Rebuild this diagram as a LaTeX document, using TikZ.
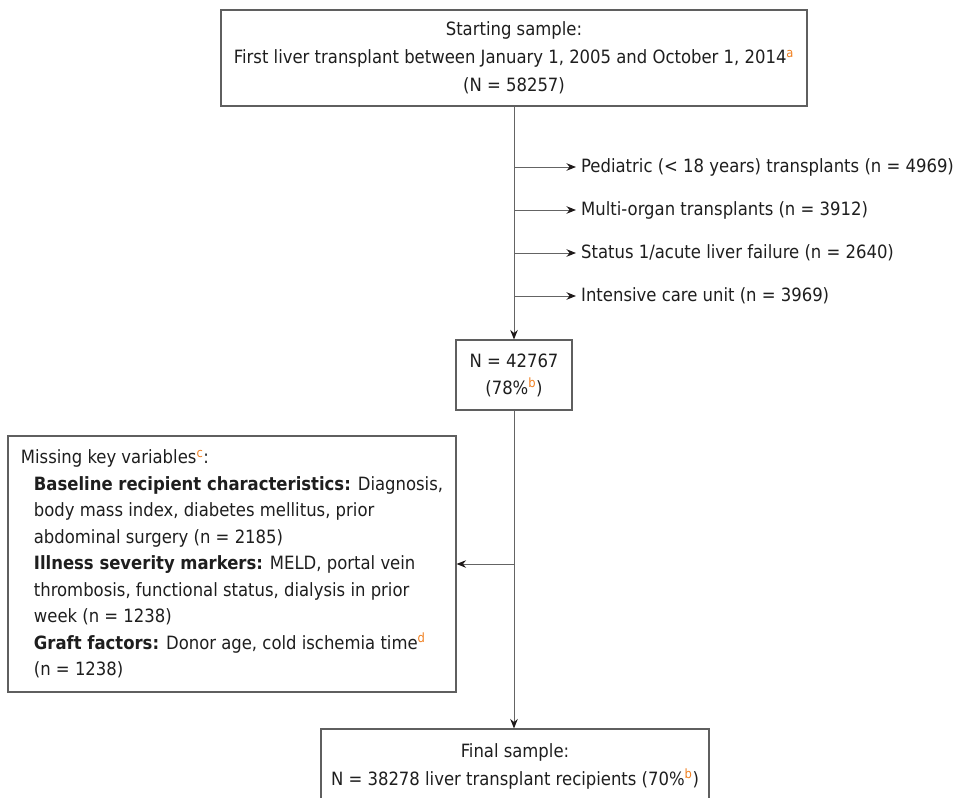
\documentclass[tikz,border=0pt]{standalone}
\usepackage{fontspec}
\setmainfont{DejaVu Sans Condensed}
\usetikzlibrary{arrows.meta}
\definecolor{supcol}{RGB}{240,128,32}
\definecolor{boxcol}{RGB}{95,95,95}
\definecolor{arrcol}{RGB}{100,100,100}
\definecolor{tipcol}{RGB}{30,25,25}
\definecolor{txtcol}{RGB}{30,30,30}
\newcommand\supc[1]{\textsuperscript{\textcolor{supcol}{#1}}}
\begin{document}
\begin{tikzpicture}[x=1pt,y=-1pt,
  every node/.style={font=\fontsize{18.3}{28}\selectfont, text=txtcol},
  frame/.style={draw=boxcol, line width=1.1pt, inner sep=0pt},
  conn/.style={draw=arrcol, line width=1pt, -{Stealth[length=9.5pt,width=7.5pt,color=tipcol]}},
  lab/.style={anchor=west, inner xsep=5pt, inner ysep=0pt}]
\useasboundingbox (0,0) rectangle (954,798);
\clip (0,0) rectangle (954,798);
% top box
\node[frame, minimum width=586pt, minimum height=96pt, align=center] (start) at (514,58)
  {Starting sample:\\First liver transplant between January 1, 2005 and October 1, 2014\supc{a}\\(N = 58257)};
% exclusions
\coordinate (t1) at (514,167);
\coordinate (t2) at (514,210);
\coordinate (t3) at (514,253);
\coordinate (t4) at (514,296);
\node[lab] (e1) at (576,167) {Pediatric (< 18 years) transplants (n = 4969)};
\node[lab] (e2) at (576,210) {Multi-organ transplants (n = 3912)};
\node[lab] (e3) at (576,253) {Status 1/acute liver failure (n = 2640)};
\node[lab] (e4) at (576,296) {Intensive care unit (n = 3969)};
% middle box
\node[frame, minimum width=116pt, minimum height=70pt, align=center,
  font=\fontsize{18.3}{27}\selectfont] (mid) at (514,375) {N = 42767\\(78\%\supc{b})};
% missing box
\node[frame, minimum width=448pt, minimum height=256pt, align=left,
  font=\fontsize{18.3}{26.5}\selectfont] (miss) at (232,564)
  {Missing key variables\supc{c}:\\
   \hspace*{13pt}\textbf{Baseline recipient characteristics:} Diagnosis,\\
   \hspace*{13pt}body mass index, diabetes mellitus, prior\\
   \hspace*{13pt}abdominal surgery (n = 2185)\\
   \hspace*{13pt}\textbf{Illness severity markers:} MELD, portal vein\\
   \hspace*{13pt}thrombosis, functional status, dialysis in prior\\
   \hspace*{13pt}week (n = 1238)\\
   \hspace*{13pt}\textbf{Graft factors:} Donor age, cold ischemia time\supc{d}\\
   \hspace*{13pt}(n = 1238)};
\coordinate (t5) at (514,564);
% final box
\node[frame, minimum width=388pt, minimum height=101pt] (final) at (515,779.5) {};
\node[align=center, inner sep=0pt] (fintxt) at (515,766)
  {Final sample:\\N = 38278 liver transplant recipients (70\%\supc{b})};
% connectors
\draw[conn] (start.south) -- (mid.north);
\draw[conn] (t1) -- (e1.west);
\draw[conn] (t2) -- (e2.west);
\draw[conn] (t3) -- (e3.west);
\draw[conn] (t4) -- (e4.west);
\draw[conn] (mid.south) -- (mid.south |- final.north);
\draw[conn] (t5) -- (miss.east);
\end{tikzpicture}
\end{document}
